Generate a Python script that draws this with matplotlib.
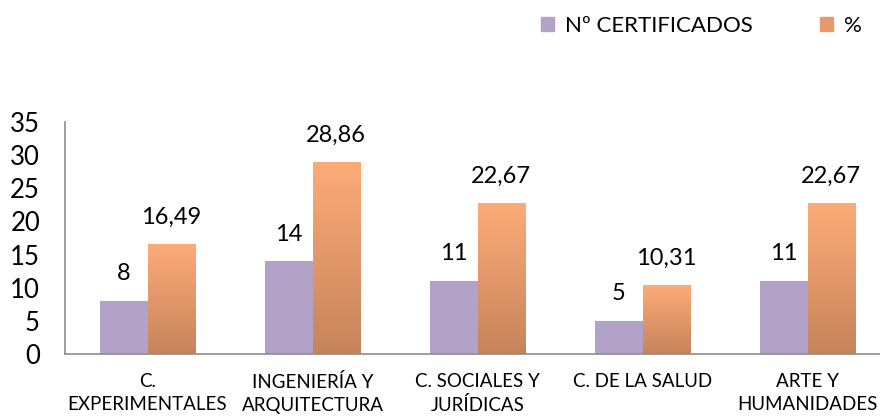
import matplotlib.pyplot as plt
import numpy as np
from matplotlib.colors import LinearSegmentedColormap
from matplotlib.patches import Patch

categories = ["C.\nEXPERIMENTALES", "INGENIERÍA Y\nARQUITECTURA", "C. SOCIALES Y\nJURÍDICAS",
              "C. DE LA SALUD", "ARTE Y\nHUMANIDADES"]
certificados = [8, 14, 11, 5, 11]
porcentaje = [16.49, 28.86, 22.67, 10.31, 22.67]
pct_labels = ["16,49", "28,86", "22,67", "10,31", "22,67"]
series_names = ["Nº CERTIFICADOS", "%"]
yticks = [0, 5, 10, 15, 20, 25, 30, 35]

PURPLE = "#B3A2C7"
ORANGE_TOP = "#FDAB78"
ORANGE_BOT = "#C6845B"
AXIS_GRAY = "#8C8C8C"

plt.rcParams["font.family"] = ["Lato", "DejaVu Sans"]

fig = plt.figure(figsize=(8.8, 4.16), dpi=100)
# axes extends past right edge like the cropped original
ax = fig.add_axes([65 / 880, 62 / 416, 825 / 880, 232 / 416])

x = np.arange(len(categories))
w = 0.285
ax.bar(x - w / 2, certificados, w, color=PURPLE, zorder=2)
bars = ax.bar(x + w / 2, porcentaje, w, color="none", zorder=2)

# vertical gradient per orange bar
cmap = LinearSegmentedColormap.from_list("org", [ORANGE_BOT, ORANGE_TOP])
grad = np.linspace(0, 1, 256).reshape(-1, 1)
for b in bars:
    x0, h = b.get_x(), b.get_height()
    ax.imshow(grad, extent=(x0, x0 + b.get_width(), 0, h), origin="lower",
              cmap=cmap, aspect="auto", zorder=2)

for i in range(len(categories)):
    ax.annotate(str(certificados[i]), (x[i] - w / 2, certificados[i]), xytext=(0, 12),
                textcoords="offset points", ha="center", va="bottom", fontsize=17)
    ax.annotate(pct_labels[i], (x[i] + w / 2, porcentaje[i]), xytext=(0, 12),
                textcoords="offset points", ha="center", va="bottom", fontsize=17)

ax.set_xlim(-0.5, 4.5)
ax.set_ylim(0, 35)
ax.set_yticks(yticks)
ax.set_yticklabels([str(t) for t in yticks], fontsize=18.5)
ax.set_xticks(x)
ax.set_xticklabels(categories, fontsize=13.5, linespacing=1.4)
ax.tick_params(length=0)
ax.tick_params(axis="y", pad=18)
ax.tick_params(axis="x", pad=14)

for s in ["top", "right"]:
    ax.spines[s].set_visible(False)
for s in ["left", "bottom"]:
    ax.spines[s].set_color(AXIS_GRAY)
    ax.spines[s].set_linewidth(1.2)

handles = [Patch(color=PURPLE), Patch(color="#E59A6C")]
fig.legend(handles, series_names, loc="center left", bbox_to_anchor=(532 / 880, 1 - 26 / 416),
           ncol=2, frameon=False, fontsize=16, handlelength=0.6, handleheight=0.6,
           handletextpad=0.5, columnspacing=3.0, borderaxespad=0)

fig.savefig("out.png", dpi=100)
